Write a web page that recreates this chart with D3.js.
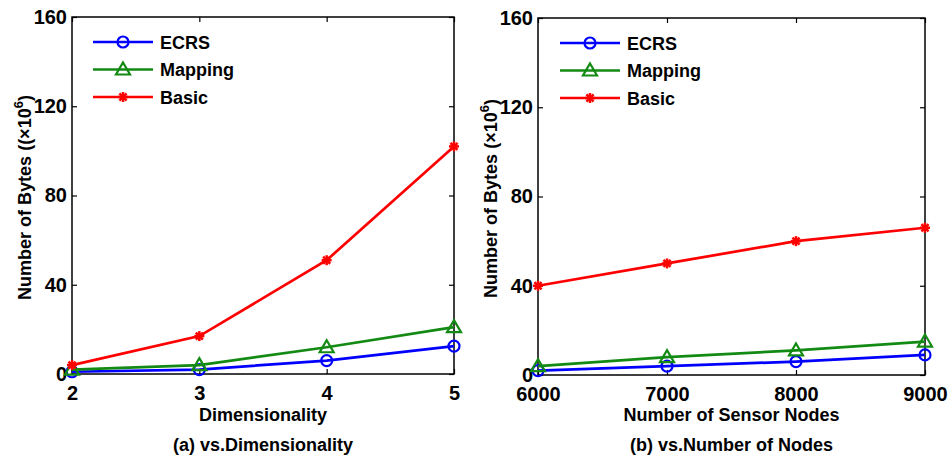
<!DOCTYPE html>
<html>
<head>
<meta charset="utf-8">
<script src="https://cdn.jsdelivr.net/npm/d3@7"></script>
<style>
  body { margin: 0; background: #fff; }
  text { font-family: "Liberation Sans", Arial, sans-serif; font-weight: bold; fill: #000; }
</style>
</head>
<body>
<svg id="chart" width="949" height="460"></svg>
<script>
// panel (a)
const dimX = [2, 3, 4, 5];
const dimECRS = [1, 2, 6, 12.5];
const dimMapping = [2, 4, 12, 21];
const dimBasic = [4, 17, 51, 102];

// panel (b)
const nodeX = [6000, 7000, 8000, 9000];
const nodeECRS = [2, 4, 6, 9];
const nodeMapping = [4, 8, 11, 15];
const nodeBasic = [40, 50, 60, 66];

const yTicks = [0, 40, 80, 120, 160];
const seriesNames = ["ECRS", "Mapping", "Basic"];
const colors = {ECRS: "#0000ff", Mapping: "#138a13", Basic: "#ff0000"};

const svg = d3.select("#chart");

function marker(g, name, x, y) {
    const c = colors[name];
    if (name === "ECRS") {
        g.append("circle").attr("cx", x).attr("cy", y).attr("r", 5.5)
            .attr("fill", "none").attr("stroke", c).attr("stroke-width", 2.2);
    } else if (name === "Mapping") {
        g.append("path").attr("transform", `translate(${x},${y})`)
            .attr("d", "M0,-7 L7,5 L-7,5 Z")
            .attr("fill", "none").attr("stroke", c).attr("stroke-width", 2.2);
    } else {
        // asterisk
        const s = g.append("g").attr("transform", `translate(${x},${y})`);
        [0, 45, 90, 135].forEach(a => {
            s.append("line").attr("x1", -5).attr("x2", 5).attr("y1", 0).attr("y2", 0)
                .attr("transform", `rotate(${a})`)
                .attr("stroke", c).attr("stroke-width", 2.5);
        });
    }
}

function drawPanel(p) {
    const g = svg.append("g");
    const x = d3.scaleLinear().domain(p.xDomain).range([p.left, p.right]);
    const y = d3.scaleLinear().domain([0, 160]).range([p.bottom, p.top]);
    const fmt = d3.format("d");

    // box
    g.append("rect").attr("x", p.left).attr("y", p.top)
        .attr("width", p.right - p.left).attr("height", p.bottom - p.top)
        .attr("fill", "none").attr("stroke", "#000").attr("stroke-width", 1.5);

    // axes with inward ticks
    const ax = g.append("g").attr("transform", `translate(0,${p.bottom})`)
        .call(d3.axisBottom(x).tickValues(p.xs).tickFormat(fmt).tickSizeInner(-5).tickSizeOuter(0).tickPadding(12));
    const axTop = g.append("g").attr("transform", `translate(0,${p.top})`)
        .call(d3.axisTop(x).tickValues(p.xs).tickSizeInner(-5).tickSizeOuter(0).tickFormat(""));
    const ay = g.append("g").attr("transform", `translate(${p.left},0)`)
        .call(d3.axisLeft(y).tickValues(yTicks).tickFormat(fmt).tickSizeInner(-5).tickSizeOuter(0).tickPadding(8));
    const ayR = g.append("g").attr("transform", `translate(${p.right},0)`)
        .call(d3.axisRight(y).tickValues(yTicks).tickSizeInner(-5).tickSizeOuter(0).tickFormat(""));
    [ax, axTop, ay, ayR].forEach(a => {
        a.select(".domain").remove();
        a.selectAll("line").attr("stroke", "#000").attr("stroke-width", 1.2);
        a.selectAll("text").style("font-size", "20px").style("font-family", "Liberation Sans, Arial, sans-serif").style("font-weight", "bold");
    });
    ay.selectAll("text").attr("x", -5);

    // lines
    const line = d3.line().x(d => x(d[0])).y(d => y(d[1]));
    p.series.forEach(s => {
        const pts = p.xs.map((v, i) => [v, s.values[i]]);
        g.append("path").datum(pts).attr("d", line)
            .attr("fill", "none").attr("stroke", colors[s.name]).attr("stroke-width", 2.7);
        pts.forEach(d => marker(g, s.name, x(d[0]), y(d[1])));
    });

    // legend
    seriesNames.forEach((n, i) => {
        const ly = p.legendY + i * 27.5;
        g.append("line").attr("x1", p.legendX).attr("x2", p.legendX + 60)
            .attr("y1", ly).attr("y2", ly)
            .attr("stroke", colors[n]).attr("stroke-width", 2.7);
        marker(g, n, p.legendX + 30, ly);
        g.append("text").attr("x", p.legendX + 67).attr("y", ly + 6.5)
            .style("font-size", "18px").text(n);
    });

    // axis titles
    g.append("text").attr("x", (p.left + p.right) / 2).attr("y", 421)
        .attr("text-anchor", "middle").style("font-size", "18px").text(p.xTitle);
    const yt = g.append("text").attr("transform", `translate(${p.yTitleX},${(p.top + p.bottom) / 2 + 2}) rotate(-90)`)
        .attr("text-anchor", "middle").style("font-size", "18px");
    yt.append("tspan").text(p.yTitle);
    yt.append("tspan").attr("dy", -8).style("font-size", "13px").text("6");
    yt.append("tspan").attr("dy", 8).text(")");

    // caption
    g.append("text").attr("x", (p.left + p.right) / 2).attr("y", 451)
        .attr("text-anchor", "middle").style("font-size", "18px").text(p.caption);
}

drawPanel({
    left: 72, right: 454, top: 17, bottom: 374,
    xDomain: [2, 5], xs: dimX,
    series: [
        {name: "ECRS", values: dimECRS},
        {name: "Mapping", values: dimMapping},
        {name: "Basic", values: dimBasic}
    ],
    legendX: 93, legendY: 42,
    xTitle: "Dimensionality",
    yTitle: "Number of Bytes ((×10",
    yTitleX: 31,
    caption: "(a) vs.Dimensionality"
});

drawPanel({
    left: 538, right: 925, top: 18, bottom: 375,
    xDomain: [6000, 9000], xs: nodeX,
    series: [
        {name: "ECRS", values: nodeECRS},
        {name: "Mapping", values: nodeMapping},
        {name: "Basic", values: nodeBasic}
    ],
    legendX: 560, legendY: 43,
    xTitle: "Number of Sensor Nodes",
    yTitle: "Number of Bytes (×10",
    yTitleX: 497,
    caption: "(b) vs.Number of Nodes"
});
</script>
</body>
</html>
